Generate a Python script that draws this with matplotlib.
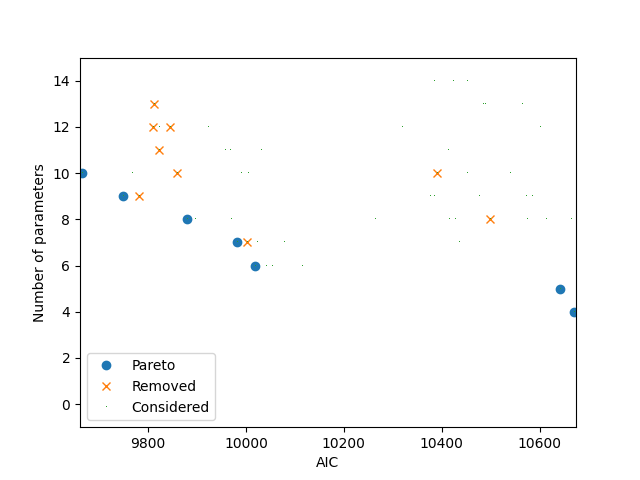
import matplotlib
matplotlib.use('Agg')
import matplotlib.pyplot as plt

# pareto front models
pareto_aic = [9665.7, 9749.5, 9880.4, 9982.6, 10019.4, 10641.0, 10669.6]
pareto_npar = [10, 9, 8, 7, 6, 5, 4]

# models removed from the front
removed_aic = [9811.0, 9809.0, 9845.6, 9823.0, 9858.0, 9782.0, 10003.0, 10389.5, 10498.0]
removed_npar = [13, 12, 12, 11, 10, 9, 7, 10, 8]

# other models that were considered
other_aic = [9823, 9923, 9958, 9968, 10030, 9766, 9989, 10005, 9895, 9970,
             10021.5, 10077, 10040, 10054, 10113.5,
             10385, 10424, 10451, 10483.5, 10487.6, 10565, 10318, 10600,
             10412, 10451, 10539, 10377, 10385, 10477, 10571.5, 10584,
             10263, 10416, 10428, 10573.5, 10614, 10663.5, 10434.5]
other_npar = [12, 12, 11, 11, 11, 10, 10, 10, 8, 8,
              7, 7, 6, 6, 6,
              14, 14, 14, 13, 13, 13, 12, 12,
              11, 10, 10, 9, 9, 9, 9, 9,
              8, 8, 8, 8, 8, 8, 7]

considered_aic = pareto_aic + removed_aic + other_aic
considered_npar = pareto_npar + removed_npar + other_npar

plt.figure(figsize=(6.4, 4.8), dpi=100)
plt.plot(pareto_aic, pareto_npar, 'o', label='Pareto')
plt.plot(removed_aic, removed_npar, 'x', label='Removed')
plt.plot(considered_aic, considered_npar, ',', label='Considered')
plt.xlim(min(pareto_aic) - 5, max(pareto_aic) + 5)
plt.ylim(-1, 15)
plt.xlabel('AIC')
plt.ylabel('Number of parameters')
plt.legend(loc='lower left')
plt.savefig('out.png')
plt.close()
